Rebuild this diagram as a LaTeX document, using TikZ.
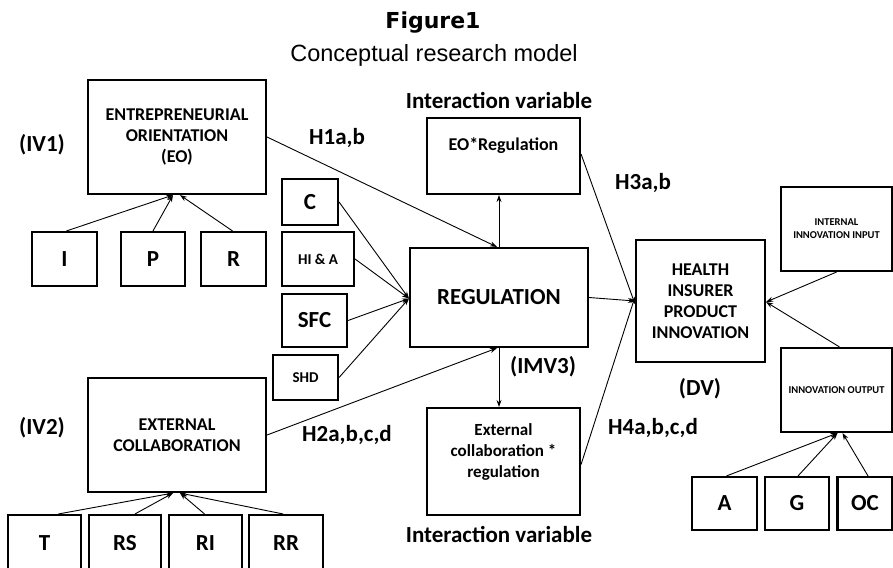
\documentclass[tikz,border=0pt]{standalone}
\usepackage{fontspec}
\setmainfont{Carlito}
\newfontfamily\titlefnt{DejaVu Sans}
\newfontfamily\subfnt{Liberation Sans}
\usetikzlibrary{arrows.meta}
\begin{document}
\begin{tikzpicture}[x=1pt,y=-1pt,
  box/.style={draw, line width=2.1pt, inner sep=0pt, align=center, font=\bfseries\fontsize{18}{21}\selectfont},
  letterbox/.style={box, font=\bfseries\fontsize{23}{27}\selectfont},
  smallbox/.style={box, font=\bfseries\fontsize{15}{18}\selectfont},
  tinybox/.style={box, font=\bfseries\fontsize{10.5}{13}\selectfont},
  lbl/.style={inner sep=0pt, font=\bfseries\fontsize{23}{27}\selectfont},
  conn/.style={line width=0.9pt, -{Stealth[length=7pt,width=5pt]}}]
\useasboundingbox (0,0) rectangle (893,567);
% titles
\node[anchor=base, inner sep=0pt, font=\titlefnt\bfseries\fontsize{22}{26}\selectfont] (title) at (433,29) {Figure1};
\node[anchor=base, inner sep=0pt, font=\subfnt\fontsize{23.5}{28}\selectfont] (subtitle) at (434,62) {Conceptual research model};
% EO block
\node[box, minimum width=178, minimum height=114] (EO) at (177,137) {ENTREPRENEURIAL\\ORIENTATION\\(EO)};
\node[letterbox, minimum width=65, minimum height=54] (I) at (64.5,259) {I};
\node[letterbox, minimum width=64, minimum height=54] (P) at (153,259) {P};
\node[letterbox, minimum width=65, minimum height=54] (R) at (233.5,259) {R};
% regulation inputs
\node[letterbox, minimum width=56, minimum height=46] (C) at (310,202) {C};
\node[smallbox, minimum width=72, minimum height=54] (HIA) at (318,259) {HI \& A};
\node[letterbox, minimum width=65, minimum height=53] (SFC) at (314.5,320.5) {SFC};
\node[smallbox, minimum width=65, minimum height=45] (SHD) at (305.5,377.5) {SHD};
% EC block
\node[box, minimum width=178, minimum height=114] (EC) at (177,435) {EXTERNAL\\COLLABORATION};
\node[letterbox, minimum width=73, minimum height=56] (T) at (44.5,543) {T};
\node[letterbox, minimum width=72, minimum height=56] (RS) at (125,543) {RS};
\node[letterbox, minimum width=73, minimum height=56] (RI) at (205.5,543) {RI};
\node[letterbox, minimum width=74, minimum height=56] (RR) at (286,543) {RR};
% centre
\node[box, minimum width=178, minimum height=99, font=\bfseries\fontsize{23}{27}\selectfont] (REG) at (499,297.5) {REGULATION};
\node[box, minimum width=153, minimum height=76] (EOR) at (503.5,156) {EO*Regulation\\[2pt]~};
\node[box, minimum width=153, minimum height=107, font=\bfseries\fontsize{17}{21}\selectfont] (ECR) at (503.5,461.5) {External\\collaboration *\\regulation\\~};
\node[box, minimum width=129, minimum height=122] (HPI) at (700.5,301) {HEALTH\\INSURER\\PRODUCT\\INNOVATION};
% right side
\node[tinybox, minimum width=111, minimum height=84] (IIN) at (836.5,229) {INTERNAL\\INNOVATION INPUT};
\node[tinybox, minimum width=111, minimum height=84] (IO) at (836.5,390) {INNOVATION OUTPUT};
\node[letterbox, minimum width=65, minimum height=53] (A) at (724.5,503.5) {A};
\node[letterbox, minimum width=64, minimum height=53] (G) at (797,503.5) {G};
\node[letterbox, minimum width=55, minimum height=53] (OC) at (865,503.5) {OC};
% labels
\node[lbl] (iv1) at (42,145) {(IV1)};
\node[lbl] (iv2) at (42,428) {(IV2)};
\node[lbl] (h1) at (337,138) {H1a,b};
\node[lbl] (h2) at (347,435) {H2a,b,c,d};
\node[lbl] (h3) at (643,183) {H3a,b};
\node[lbl] (h4) at (653,428) {H4a,b,c,d};
\node[lbl] (ivtop) at (499,100) {Interaction variable};
\node[lbl] (ivbot) at (499,534) {Interaction variable};
\node[lbl] (imv3) at (543,367) {(IMV3)};
\node[lbl] (dv) at (700,389) {(DV)};
% connectors: EO indicators
\draw[conn] ([xshift=2]I.north) -- ([xshift=-4]EO.south);
\draw[conn] (P.north) -- ([xshift=-4]EO.south);
\draw[conn] ([xshift=-1]R.north) -- ([xshift=3]EO.south);
% EC indicators
\draw[conn] ([xshift=14]T.north) -- ([xshift=-4]EC.south);
\draw[conn] ([xshift=10]RS.north) -- ([xshift=-4]EC.south);
\draw[conn] ([xshift=-1]RI.north) -- ([xshift=3]EC.south);
\draw[conn] ([xshift=-3]RR.north) -- ([xshift=3]EC.south);
% regulation inputs
\draw[conn] (C.east) -- ([yshift=-1]REG.west);
\draw[conn] (HIA.east) -- ([yshift=-1]REG.west);
\draw[conn] (SFC.east) -- ([yshift=-1]REG.west);
\draw[conn] (SHD.east) -- ([yshift=-1]REG.west);
% main paths
\draw[conn] (EO.east) -- ([xshift=-2]REG.north);
\draw[conn] (EC.east) -- ([xshift=-2]REG.south);
\draw[conn] (REG.north) -- (REG.north |- EOR.south);
\draw[conn] (REG.south) -- (REG.south |- ECR.north);
\draw[conn] ([yshift=2]EOR.east) -- ([yshift=-3]HPI.west);
\draw[conn] (REG.east) -- (HPI.west);
\draw[conn] ([yshift=-3]ECR.east) -- ([yshift=4]HPI.west);
\draw[conn] (IIN.south) -- ([yshift=-1]HPI.east);
\draw[conn] ([xshift=3]IO.north) -- ([yshift=-1]HPI.east);
% innovation output indicators
\draw[conn] ([xshift=2]A.north) -- ([xshift=1]IO.south);
\draw[conn] ([xshift=1]G.north) -- ([xshift=1]IO.south);
\draw[conn] ([xshift=3]OC.north) -- ([xshift=6]IO.south);
\end{tikzpicture}
\end{document}
